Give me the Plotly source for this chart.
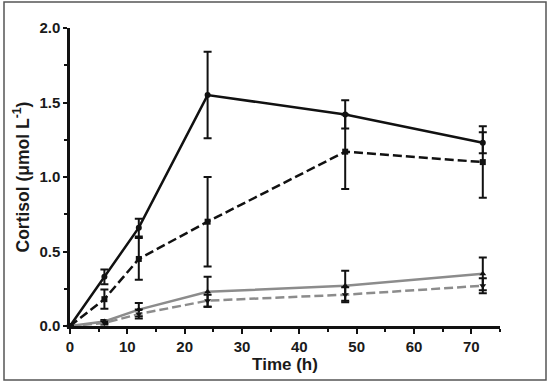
import plotly.graph_objects as go

time_h = [0, 6, 12, 24, 48, 72]

s1_mean = [0.00, 0.33, 0.66, 1.55, 1.42, 1.23]
s1_err = [0.00, 0.05, 0.06, 0.29, 0.095, 0.07]

s2_mean = [0.00, 0.18, 0.45, 0.70, 1.17, 1.10]
s2_err = [0.00, 0.065, 0.14, 0.30, 0.25, 0.24]

s3_mean = [0.00, 0.03, 0.11, 0.23, 0.27, 0.35]
s3_err = [0.00, 0.01, 0.045, 0.10, 0.10, 0.11]

s4_mean = [0.00, 0.02, 0.08, 0.17, 0.21, 0.27]
s4_err = [0.00, 0.01, 0.03, 0.04, 0.05, 0.05]

x_ticks = [0, 10, 20, 30, 40, 50, 60, 70]
y_ticks = [0.0, 0.5, 1.0, 1.5, 2.0]
y_tick_labels = ["0.0", "0.5", "1.0", "1.5", "2.0"]

series = [
    (s3_mean, s3_err, "#8c8c8c", "solid", "triangle-up"),
    (s4_mean, s4_err, "#8c8c8c", "9px,4px", "triangle-down"),
    (s2_mean, s2_err, "#111111", "9px,4px", "square"),
    (s1_mean, s1_err, "#111111", "solid", "circle"),
]

fig = go.Figure()
for mean, err, color, dash, sym in series:
    fig.add_trace(go.Scatter(
        x=time_h, y=mean,
        mode="lines+markers",
        line=dict(color=color, width=2.5, dash=dash),
        marker=dict(symbol=sym, size=6, color="#111111"),
        error_y=dict(type="data", array=err, visible=True,
                     color="#111111", thickness=2, width=4),
        showlegend=False,
        cliponaxis=False,
    ))

axis_font = dict(family="Liberation Sans, Arial, sans-serif", size=15, color="#1a1a1a")

fig.update_layout(
    width=550, height=384,
    margin=dict(l=70, r=50, t=28, b=58, autoexpand=False),
    paper_bgcolor="white",
    plot_bgcolor="white",
    xaxis=dict(
        range=[0, 75], tickvals=x_ticks, ticktext=[f"<b>{t}</b>" for t in x_ticks],
        automargin=False,
        showgrid=False, zeroline=False,
        showline=True, linecolor="#111111", linewidth=2.5,
        ticks="outside", ticklen=5, tickwidth=2, tickcolor="#111111",
        minor=dict(dtick=5, ticks="outside", ticklen=3, tickwidth=1.5, tickcolor="#111111"),
        tickfont=axis_font,
        title=dict(text="<b>Time (h)</b>", font=dict(axis_font, size=17), standoff=4),
    ),
    yaxis=dict(
        range=[0, 2.0], tickvals=y_ticks, ticktext=[f"<b>{t}</b>" for t in y_tick_labels],
        automargin=False,
        showgrid=False, zeroline=False,
        showline=True, linecolor="#111111", linewidth=2.5,
        ticks="outside", ticklen=4, tickwidth=2, tickcolor="#111111",
        minor=dict(dtick=0.25, ticks="outside", ticklen=3, tickwidth=1.5, tickcolor="#111111"),
        tickfont=axis_font,
        title=dict(text="<b>Cortisol (μmol L<sup>-1</sup>)</b>", font=dict(axis_font, size=17.5), standoff=6),
    ),
)

# outer frame around the whole figure
fig.add_shape(type="rect", xref="paper", yref="paper",
              x0=(4 - 70) / 430, x1=(546 - 70) / 430,
              y0=(326 - 380) / 298, y1=(326 - 2) / 298,
              line=dict(color="#555555", width=1.5), fillcolor="rgba(0,0,0,0)")

fig.write_html("out.html", config={"displayModeBar": False},
               post_script="document.body.style.margin='0';")
